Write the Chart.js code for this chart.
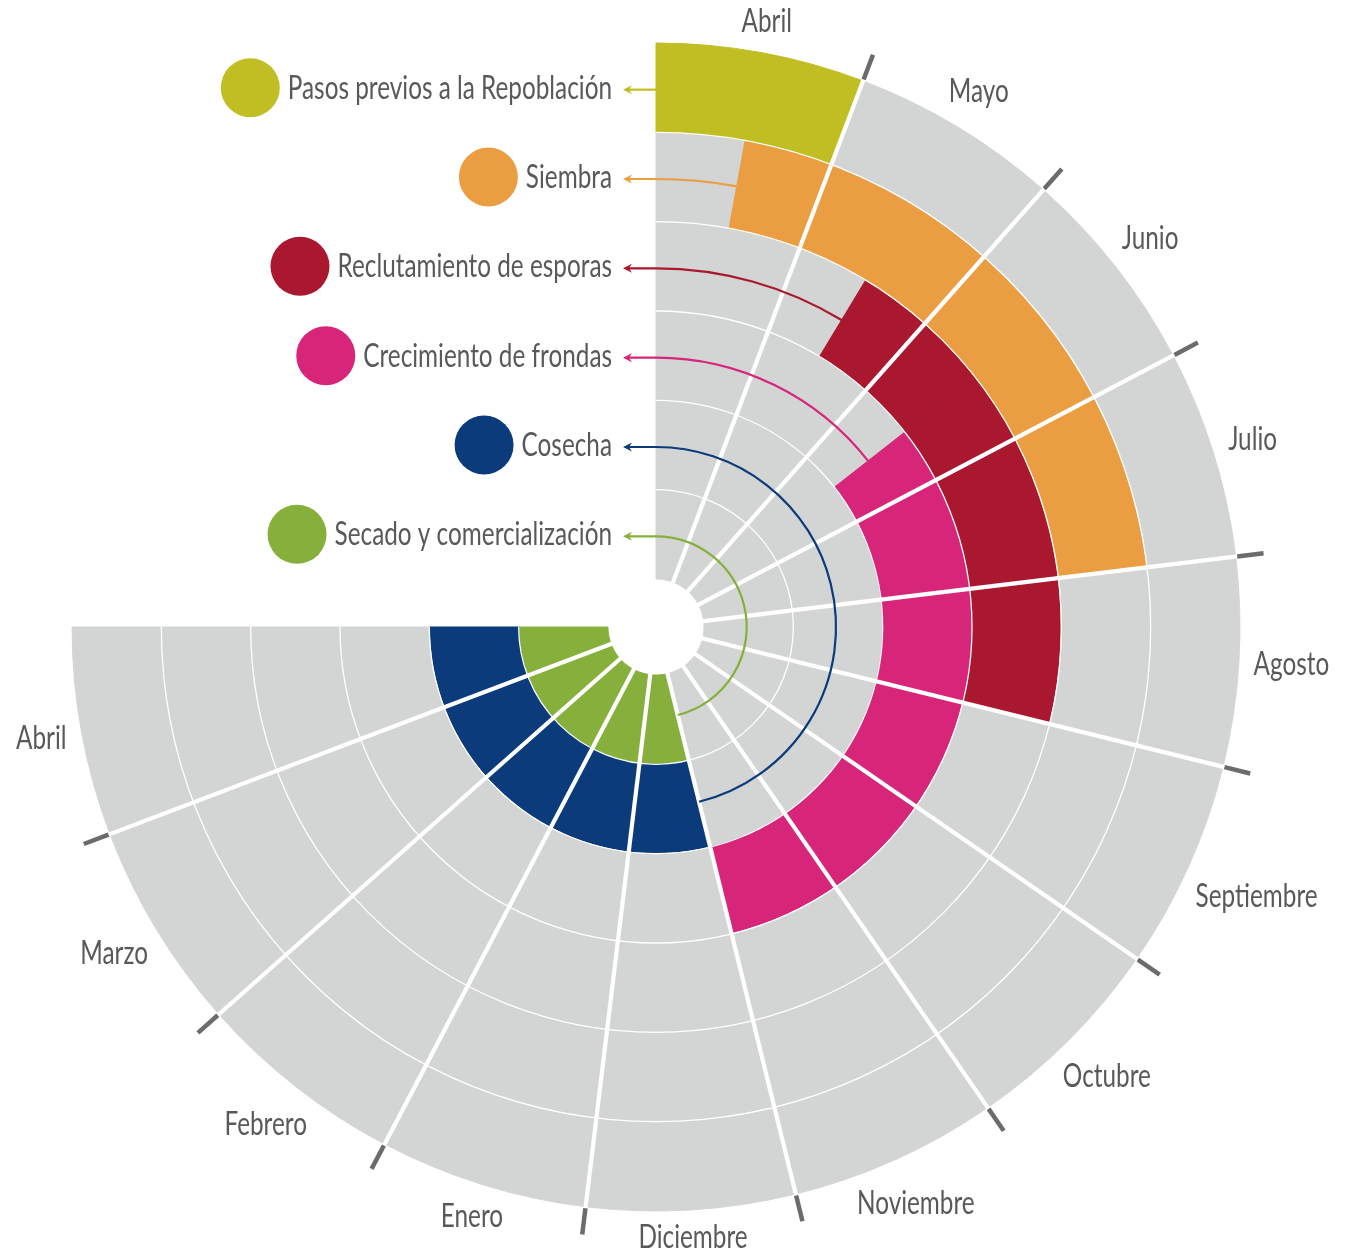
<!DOCTYPE html>
<html lang="es">
<head>
<meta charset="utf-8">
<title>Calendario de cultivo</title>
<script src="https://cdn.jsdelivr.net/npm/chart.js@4.4.1/dist/chart.umd.min.js"></script>
<style>
    html, body { margin: 0; padding: 0; background: #fff; }
    #wrap { width: 1348px; height: 1260px; }
</style>
</head>
<body>
<div id="wrap"><canvas id="chart-ciclo" width="1348" height="1260"></canvas></div>
<script>
// Meses: 13 sectores, de abril a abril, repartidos en 270 grados
const meses = ['Abril', 'Mayo', 'Junio', 'Julio', 'Agosto', 'Septiembre', 'Octubre',
    'Noviembre', 'Diciembre', 'Enero', 'Febrero', 'Marzo', 'Abril'];

// Actividades, de la corona exterior a la interior
const actividades = ['Pasos previos a la Repoblación', 'Siembra', 'Reclutamiento de esporas',
    'Crecimiento de frondas', 'Cosecha', 'Secado y comercialización'];
const coloresActividad = ['#c0be22', '#ea9e41', '#a9182f', '#d7257a', '#0b3b7b', '#86b03b'];

// Inicio y fin de cada actividad, en meses contados desde el primer abril
const inicioMes = [0, 0.5, 1.5, 2.5, 8, 8];
const finMes = [1, 4, 5, 8, 13, 13];

const GRIS = '#d3d4d4';
const TEXTO = '#58595b';
const MARCA = '#6b6b6b';
const FUENTE = '32px Lato, "Open Sans", sans-serif';
const CONDENSADO = 0.76;
const PARTES = 2; // medias partes por mes

const etiquetas = [];
meses.forEach(m => { for (let p = 0; p < PARTES; p++) etiquetas.push(m); });

const datasets = actividades.map((act, i) => {
    const data = [];
    const colores = [];
    for (let k = 0; k < etiquetas.length; k++) {
        const mes = k / PARTES;
        data.push(1);
        colores.push(mes >= inicioMes[i] && mes < finMes[i] ? coloresActividad[i] : GRIS);
    }
    return {
        label: act,
        data: data,
        backgroundColor: colores,
        // borde del mismo color para tapar las juntas entre medias partes
        borderColor: colores,
        borderWidth: 1,
        hoverOffset: 0,
        offset: 0
    };
});

function textoCondensado(ctx, texto, x, y, align) {
    ctx.save();
    ctx.translate(x, y);
    ctx.scale(CONDENSADO, 1);
    ctx.textAlign = align;
    ctx.fillText(texto, 0, 0);
    ctx.restore();
}

const decoracion = {
    id: 'decoracion',
    afterDatasetsDraw(chart) {
        const ctx = chart.ctx;
        const arcos = chart.getDatasetMeta(0).data;
        const cx = arcos[0].x;
        const cy = arcos[0].y;
        const rOut = arcos[0].outerRadius;
        const rIn = chart.getDatasetMeta(actividades.length - 1).data[0].innerRadius;
        const a0 = arcos[0].startAngle;
        const a1 = arcos[arcos.length - 1].endAngle;

        ctx.save();
        // lineas finas entre coronas
        ctx.strokeStyle = '#fff';
        ctx.lineWidth = 1.3;
        for (let i = 1; i < actividades.length; i++) {
            const r = chart.getDatasetMeta(i).data[0].outerRadius;
            ctx.beginPath();
            ctx.arc(cx, cy, r, a0, a1);
            ctx.stroke();
        }

        // separadores de meses y marcas exteriores
        ctx.lineCap = 'butt';
        for (let k = 1; k < meses.length; k++) {
            const a = arcos[k * PARTES].startAngle;
            const c = Math.cos(a), s = Math.sin(a);
            ctx.strokeStyle = '#fff';
            ctx.lineWidth = 4.2;
            ctx.beginPath();
            ctx.moveTo(cx + c * (rIn - 2), cy + s * (rIn - 2));
            ctx.lineTo(cx + c * (rOut + 1.5), cy + s * (rOut + 1.5));
            ctx.stroke();
            ctx.strokeStyle = MARCA;
            ctx.lineWidth = 4.5;
            ctx.beginPath();
            ctx.moveTo(cx + c * (rOut + 1.5), cy + s * (rOut + 1.5));
            ctx.lineTo(cx + c * (rOut + 28), cy + s * (rOut + 28));
            ctx.stroke();
        }

        // nombres de los meses
        ctx.font = FUENTE;
        ctx.fillStyle = TEXTO;
        ctx.textBaseline = 'middle';
        meses.forEach((m, k) => {
            const a = (arcos[k * PARTES].startAngle + arcos[k * PARTES + PARTES - 1].endAngle) / 2;
            const w = ctx.measureText(m).width * CONDENSADO;
            const d = rOut + 14 + (w / 2) * Math.abs(Math.cos(a)) + 12 * Math.abs(Math.sin(a));
            textoCondensado(ctx, m, cx + Math.cos(a) * d, cy + Math.sin(a) * d - 1, 'center');
        });

        // leyenda con flechas hacia cada corona
        const xFlecha = cx - 33;
        const xTexto = cx - 44;
        actividades.forEach((act, i) => {
            const el = chart.getDatasetMeta(i).data[0];
            const rMid = (el.outerRadius + el.innerRadius) / 2 - 2;
            const y = cy - rMid;
            const color = coloresActividad[i];
            const aInicio = chart.getDatasetMeta(i).data[Math.round(inicioMes[i] * PARTES)].startAngle;

            ctx.strokeStyle = color;
            ctx.fillStyle = color;
            ctx.lineWidth = 2.2;
            ctx.beginPath();
            if (aInicio > a0 + 0.001) ctx.arc(cx, cy, rMid, aInicio, a0, true);
            else ctx.moveTo(cx, y);
            ctx.lineTo(xFlecha + 6, y);
            ctx.stroke();
            ctx.beginPath();
            ctx.moveTo(xFlecha, y);
            ctx.lineTo(xFlecha + 9, y - 4.5);
            ctx.lineTo(xFlecha + 6, y);
            ctx.lineTo(xFlecha + 9, y + 4.5);
            ctx.closePath();
            ctx.fill();

            ctx.font = FUENTE;
            const w = ctx.measureText(act).width * CONDENSADO;
            ctx.beginPath();
            ctx.arc(xTexto - w - 8 - 29.5, y - 2, 29.5, 0, Math.PI * 2);
            ctx.fill();

            ctx.fillStyle = TEXTO;
            ctx.textBaseline = 'alphabetic';
            textoCondensado(ctx, act, xTexto, y + 9, 'right');
        });
        ctx.restore();
    }
};

new Chart(document.getElementById('chart-ciclo').getContext('2d'), {
    type: 'doughnut',
    data: {
        labels: etiquetas,
        datasets: datasets
    },
    options: {
        responsive: false,
        animation: false,
        events: [],
        rotation: 0,
        circumference: 270,
        radius: 584,
        cutout: '8.22%',
        layout: { padding: { left: 0, right: 36, top: 0, bottom: 6 } },
        plugins: {
            legend: { display: false },
            tooltip: { enabled: false }
        }
    },
    plugins: [decoracion]
});
</script>
</body>
</html>
